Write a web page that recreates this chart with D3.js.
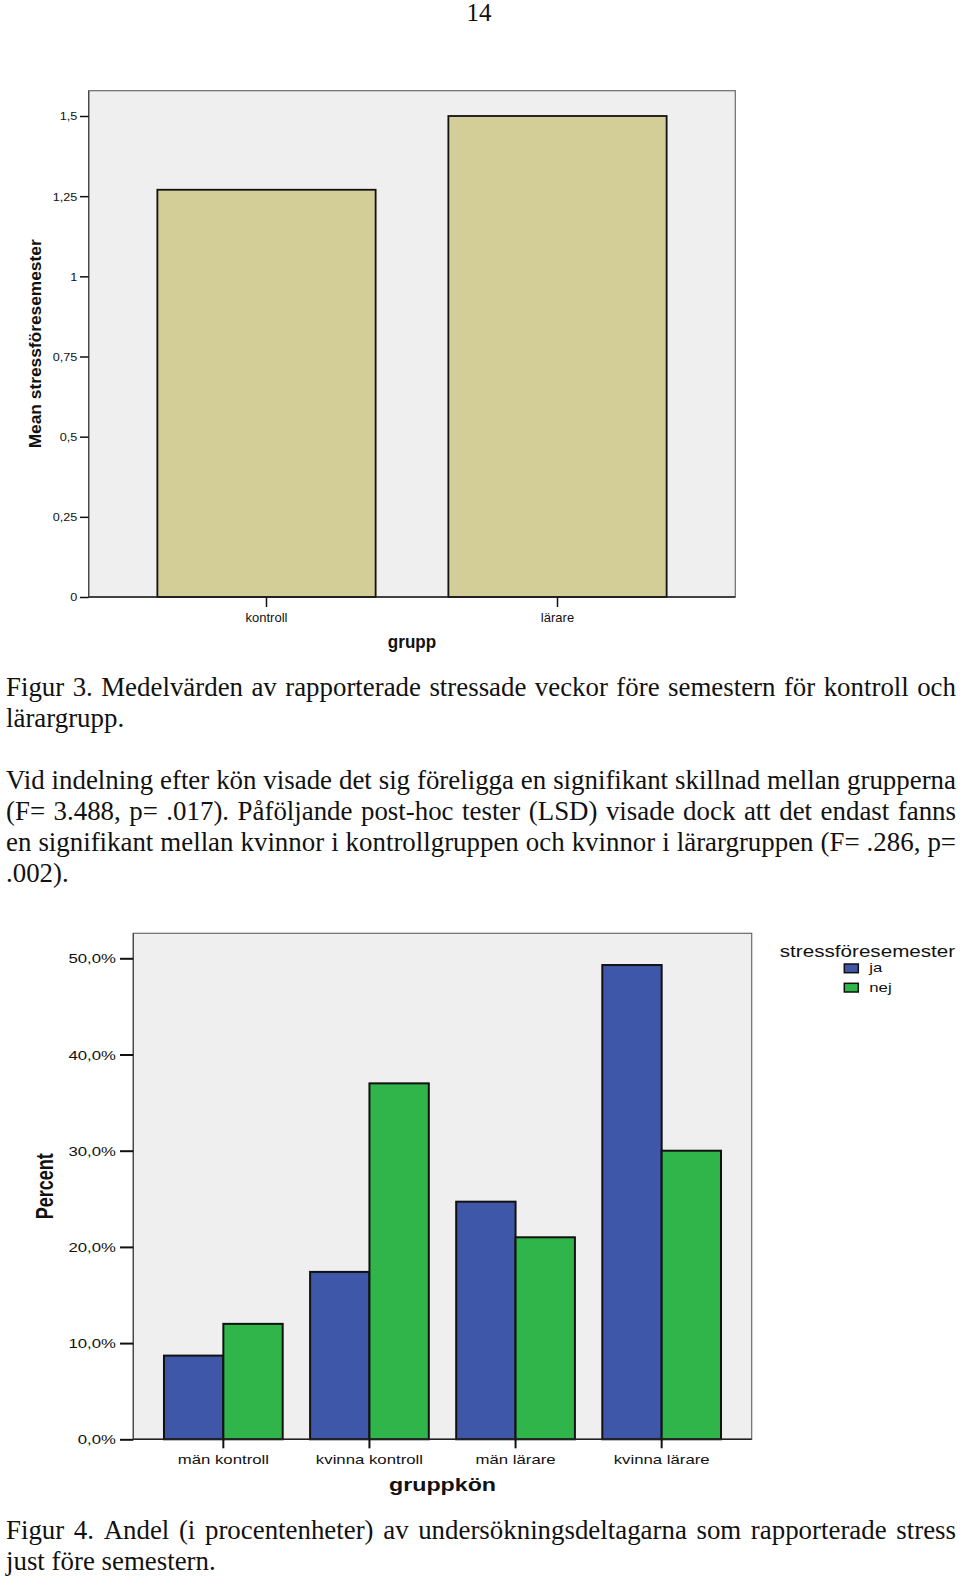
<!DOCTYPE html>
<html><head><meta charset="utf-8">
<script src="https://cdn.jsdelivr.net/npm/d3@7"></script>
<style>body{margin:0;background:#fff}svg{display:block}</style>
</head><body>
<svg id="c" width="960" height="1577"></svg>
<script>
// ---------- data ----------
const pageNumber = "14";

const groups1 = ["kontroll", "lärare"];
const means1 = [1.27, 1.50];
const yTicks1 = [0, 0.25, 0.5, 0.75, 1, 1.25, 1.5];
const yTickLabels1 = ["0", "0,25", "0,5", "0,75", "1", "1,25", "1,5"];
const xTitle1 = "grupp";
const yTitle1 = "Mean stressföresemester";

const groups2 = ["män kontroll", "kvinna kontroll", "män lärare", "kvinna lärare"];
const seriesNames2 = ["ja", "nej"];
const jaValues = [8.7, 17.4, 24.7, 49.3];
const nejValues = [12.0, 37.0, 21.0, 30.0];
const seriesColors2 = ["#3e57a8", "#30b54a"];
const yTicks2 = [0, 10, 20, 30, 40, 50];
const yTickLabels2 = ["0,0%", "10,0%", "20,0%", "30,0%", "40,0%", "50,0%"];
const xTitle2 = "gruppkön";
const yTitle2 = "Percent";
const legendTitle2 = "stressföresemester";

const caption3 = [
  "Figur 3. Medelvärden av rapporterade stressade veckor före semestern för kontroll och",
  "lärargrupp."
];
const paragraph = [
  "Vid indelning efter kön visade det sig föreligga en signifikant skillnad mellan grupperna",
  "(F= 3.488, p= .017). Påföljande post-hoc tester (LSD) visade dock att det endast fanns",
  "en signifikant mellan kvinnor i kontrollgruppen och kvinnor i lärargruppen (F= .286, p=",
  ".002)."
];
const caption4 = [
  "Figur 4. Andel (i procentenheter) av undersökningsdeltagarna som rapporterade stress",
  "just före semestern."
];

// ---------- setup ----------
const svg = d3.select("#c");
const SANS = "'Liberation Sans', Arial, sans-serif";
const SERIF = "'Liberation Serif', 'Times New Roman', serif";

// page number
svg.append("text").attr("transform", "translate(479,21)")
  .attr("text-anchor", "middle").attr("font-family", SERIF).attr("font-size", 25)
  .attr("fill", "#111").text(pageNumber);

// justified text block
function textBlock(lines, baselines, justifyFlags) {
  const sx = 0.96, left = 6, right = 956, fs = 28;
  lines.forEach((line, i) => {
    const g = svg.append("g")
      .attr("transform", `translate(${left},${baselines[i]}) scale(${sx},1)`)
      .attr("font-family", SERIF).attr("font-size", fs).attr("fill", "#111");
    if (!justifyFlags[i]) { g.append("text").text(line); return; }
    const words = line.split(" ");
    const nodes = words.map(w => g.append("text").text(w));
    const widths = nodes.map(n => n.node().getComputedTextLength());
    const total = d3.sum(widths);
    const minGap = 3.5;
    let k = sx;
    let gap = ((right - left) / k - total) / (words.length - 1);
    if (gap < minGap) {
      k = (right - left) / (total + minGap * (words.length - 1));
      gap = minGap;
      g.attr("transform", `translate(${left},${baselines[i]}) scale(${k},1)`);
    }
    let x = 0;
    nodes.forEach((n, j) => { n.attr("x", x); x += widths[j] + gap; });
  });
}

// ---------- chart 1 ----------
{
  const L = 88.7, R = 735.3, T = 90.7, B = 597;
  const x = d3.scaleBand().domain(groups1).range([L, R]).paddingInner(0.25).paddingOuter(0.236);
  const y = d3.scaleLinear().domain([0, 1.5]).range([B, 116]);
  const g = svg.append("g");
  g.append("rect").attr("x", L).attr("y", T).attr("width", R - L).attr("height", B - T)
    .attr("fill", "#efefef").attr("stroke", "#6a6a6a").attr("stroke-width", 1.2);
  g.selectAll("rect.bar").data(means1).join("rect").attr("class", "bar")
    .attr("x", (d, i) => x(groups1[i])).attr("width", x.bandwidth())
    .attr("y", d => y(d)).attr("height", d => y(0) - y(d))
    .attr("fill", "#d3cd98").attr("stroke", "#111").attr("stroke-width", 1.8);
  g.append("line").attr("x1", L).attr("x2", R).attr("y1", B).attr("y2", B).attr("stroke", "#222").attr("stroke-width", 1.4);
  g.append("line").attr("x1", L).attr("x2", L).attr("y1", T).attr("y2", B).attr("stroke", "#444").attr("stroke-width", 1.2);

  const ay = g.append("g").attr("transform", `translate(${L},0)`)
    .call(d3.axisLeft(y).tickValues(yTicks1).tickFormat((d, i) => yTickLabels1[i]).tickSize(8.7).tickPadding(0));
  ay.select(".domain").remove();
  ay.selectAll(".tick line").attr("stroke", "#111").attr("stroke-width", 1.5);
  ay.selectAll(".tick text").attr("x", 0).attr("dy", "0.34em")
    .attr("transform", "translate(-11.4,0) scale(1.1,1)")
    .attr("font-family", SANS).attr("font-size", 11.5).attr("fill", "#111");

  const ax = g.append("g").attr("transform", `translate(0,${B})`)
    .call(d3.axisBottom(x).tickSize(10).tickPadding(0));
  ax.select(".domain").remove();
  ax.selectAll(".tick line").attr("stroke", "#111").attr("stroke-width", 1.5);
  ax.selectAll(".tick text").attr("y", 24.7).attr("dy", 0)
    .attr("font-family", SANS).attr("font-size", 13).attr("fill", "#111");

  g.append("text").attr("x", (L + R) / 2).attr("y", 647.7).attr("text-anchor", "middle")
    .attr("font-family", SANS).attr("font-weight", "bold").attr("font-size", 18)
    .attr("textLength", 48.3).attr("lengthAdjust", "spacingAndGlyphs").attr("fill", "#111").text(xTitle1);
  g.append("text").attr("transform", `translate(40.7,${(T + B) / 2}) rotate(-90)`).attr("text-anchor", "middle")
    .attr("font-family", SANS).attr("font-weight", "bold").attr("font-size", 16)
    .attr("textLength", 209).attr("lengthAdjust", "spacingAndGlyphs").attr("fill", "#111").text(yTitle1);
}

// ---------- text ----------
textBlock(caption3, [696, 727.2], [true, false]);
textBlock(paragraph, [788.5, 819.7, 850.9, 882.1], [true, true, true, false]);
textBlock(caption4, [1539, 1570.2], [true, false]);

// ---------- chart 2 ----------
{
  const L = 133.3, R = 751.7, T = 933.3, B = 1439.3, SX = 1.29;
  const x = d3.scaleBand().domain(groups2).range([L, R]).paddingInner(0.1875).paddingOuter(0.21);
  const xs = d3.scaleBand().domain(seriesNames2).range([0, x.bandwidth()]);
  const y = d3.scaleLinear().domain([0, 50]).range([B, 958.3]);
  const color = d3.scaleOrdinal().domain(seriesNames2).range(seriesColors2);
  const g = svg.append("g");
  g.append("rect").attr("x", L).attr("y", T).attr("width", R - L).attr("height", B - T)
    .attr("fill", "#efefef").attr("stroke", "#6a6a6a").attr("stroke-width", 1.2);

  const rows = groups2.map((grp, i) => ({ grp, vals: [jaValues[i], nejValues[i]] }));
  const gg = g.selectAll("g.grp").data(rows).join("g").attr("class", "grp")
    .attr("transform", d => `translate(${x(d.grp)},0)`);
  gg.selectAll("rect").data(d => d.vals.map((v, k) => ({ s: seriesNames2[k], v }))).join("rect")
    .attr("x", d => xs(d.s)).attr("width", xs.bandwidth())
    .attr("y", d => y(d.v)).attr("height", d => y(0) - y(d.v))
    .attr("fill", d => color(d.s)).attr("stroke", "#111").attr("stroke-width", 2);

  g.append("line").attr("x1", L).attr("x2", R).attr("y1", B).attr("y2", B).attr("stroke", "#222").attr("stroke-width", 1.4);
  g.append("line").attr("x1", L).attr("x2", L).attr("y1", T).attr("y2", B).attr("stroke", "#444").attr("stroke-width", 1.2);

  const ay = g.append("g").attr("transform", `translate(${L},0)`)
    .call(d3.axisLeft(y).tickValues(yTicks2).tickFormat((d, i) => yTickLabels2[i]).tickSize(13.3).tickPadding(0));
  ay.select(".domain").remove();
  ay.selectAll(".tick line").attr("stroke", "#111").attr("stroke-width", 2);
  ay.selectAll(".tick text").attr("x", 0).attr("dy", "0.36em")
    .attr("transform", `translate(-17.3,0) scale(${SX},1)`)
    .attr("font-family", SANS).attr("font-size", 13).attr("fill", "#111");

  const ax = g.append("g").attr("transform", `translate(0,${B})`)
    .call(d3.axisBottom(x).tickSize(9).tickPadding(0));
  ax.select(".domain").remove();
  ax.selectAll(".tick line").attr("stroke", "#111").attr("stroke-width", 2);
  ax.selectAll(".tick text").attr("y", 0).attr("dy", 0)
    .attr("transform", `translate(0,24.7) scale(${SX},1)`)
    .attr("font-family", SANS).attr("font-size", 13).attr("fill", "#111");

  g.append("text").attr("transform", `translate(${(L + R) / 2},1491) scale(${SX},1)`).attr("text-anchor", "middle")
    .attr("font-family", SANS).attr("font-weight", "bold").attr("font-size", 18)
    .attr("fill", "#111").text(xTitle2);
  g.append("text").attr("transform", `translate(52.7,${(T + B) / 2}) scale(${SX},1) rotate(-90)`).attr("text-anchor", "middle")
    .attr("font-family", SANS).attr("font-weight", "bold").attr("font-size", 18)
    .attr("fill", "#111").text(yTitle2);

  // legend
  const lg = g.append("g");
  lg.append("text").attr("transform", `translate(${(778.3 + 956.7) / 2},956.7) scale(${SX},1)`).attr("text-anchor", "middle")
    .attr("font-family", SANS).attr("font-size", 16).attr("fill", "#111").text(legendTitle2);
  const items = lg.selectAll("g.item").data(seriesNames2).join("g").attr("class", "item")
    .attr("transform", (d, i) => `translate(844.3,${964 + i * 19.3})`);
  items.append("rect").attr("width", 14).attr("height", 8.7)
    .attr("fill", d => color(d)).attr("stroke", "#111").attr("stroke-width", 1.5);
  items.append("text").attr("transform", `translate(25,8.3) scale(${SX},1)`)
    .attr("font-family", SANS).attr("font-size", 13).attr("fill", "#111").text(d => d);
}
</script>
</body></html>
